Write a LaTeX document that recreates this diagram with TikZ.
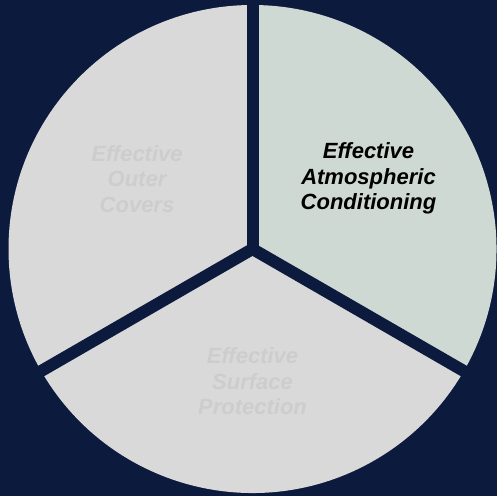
\documentclass[tikz,border=0pt]{standalone}
\usepackage{fontspec}
\setmainfont{Liberation Sans}
\definecolor{navy}{HTML}{0C1A3D}
\definecolor{paleGrey}{HTML}{D9D9D9}
\definecolor{paleSage}{HTML}{CFD9D4}
\definecolor{fadedGrey}{HTML}{CDCDCD}
\begin{document}
\begin{tikzpicture}[x = 1pt, y = 1pt,
  label text/.style = {font = \bfseries\itshape\fontsize{22}{25.5}\selectfont, align = center, inner sep = 0},
  faded text/.style = {label text, fadedGrey}]
\useasboundingbox (0,0) rectangle (497,496);
\fill[navy] (0,0) rectangle (497,496);
\begin{scope}[shift = {(252.5,247)}]
\foreach \start / \stop / \col in {90/210/paleGrey, 210/330/paleGrey, -30/90/paleSage}
{
	\fill[\col] (0,0) -- (\start:244) arc[start angle = \start, end angle = \stop, radius = 244] -- cycle;
}
\foreach \a in {90,210,330}
{
	\draw[navy, line width = 12, line cap = round] (0,0) -- (\a:252);
}
\end{scope}
\node[label text, black] (atmos) at (368.5,317.2) {Effective\\Atmospheric\\Conditioning};
\node[faded text] (outer) at (137,317.2) {Effective\\Outer\\Covers};
\node[faded text] (surface) at (252.5,114.5) {Effective\\Surface\\Protection};
\end{tikzpicture}
\end{document}
